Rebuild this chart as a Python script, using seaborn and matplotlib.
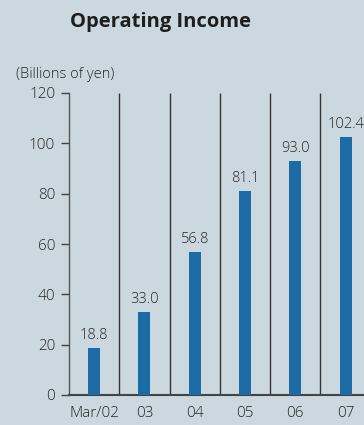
import matplotlib
matplotlib.use("Agg")
import matplotlib.pyplot as plt
import seaborn as sns
import pandas as pd

categories = ["Mar/02", "03", "04", "05", "06", "07"]
values = [18.8, 33.0, 56.8, 81.1, 93.0, 102.4]
yticks = [0, 20, 40, 60, 80, 100, 120]

BG = "#cbd8df"
BAR = "#1c6ba4"
TXT = "#262626"

sns.set_theme(style="white")
plt.rcParams["font.family"] = ["Open Sans", "DejaVu Sans"]

fig = plt.figure(figsize=(3.64, 4.25), dpi=100, facecolor=BG)
ax = fig.add_axes([69/364, 30/425, (364-69)/364, (395-93)/425])
ax.set_facecolor(BG)

df = pd.DataFrame({"cat": categories, "val": values})
sns.barplot(data=df, x="cat", y="val", color=BAR, width=0.24, saturation=1,
            linewidth=0, edgecolor=BAR, ax=ax, zorder=3)

ax.set_ylim(0, 120)
ax.set_xlim(-0.5, -0.5 + (364-69)/50.3)
ax.set_yticks(yticks)
ax.set_yticklabels([str(t) for t in yticks], fontsize=11, color=TXT,
                   fontweight="light")
ax.set_xticks(range(len(categories)))
ax.set_xticklabels(categories, fontsize=11, color=TXT, fontweight="light")
ax.set_xlabel("")
ax.set_ylabel("")
ax.tick_params(axis="y", length=6, width=1, color="#444444", pad=4, left=True)
ax.tick_params(axis="x", length=0, pad=8)

for s in ["top", "right"]:
    ax.spines[s].set_visible(False)
ax.spines["left"].set_color("#555555")
ax.spines["left"].set_linewidth(1.0)
ax.spines["bottom"].set_color("#444444")
ax.spines["bottom"].set_linewidth(1.5)

# category separators
ax.vlines([i + 0.5 for i in range(len(categories) - 1)], 0, 120,
          colors="#333333", linewidth=1.0, zorder=2)

for i, v in enumerate(values):
    ax.text(i, v + 2.0, f"{v:.1f}", ha="center", va="bottom",
            fontsize=10.5, color=TXT, fontweight="light")

fig.text(160/364, 1 - 22/425, "Operating Income", ha="center", va="center",
         fontsize=14.5, fontweight="bold", color="#1e1e1e")
fig.text(16/364, 1 - 74/425, "(Billions of yen)", ha="left", va="center",
         fontsize=10.5, color=TXT, fontweight="light")

fig.savefig("out.png", dpi=100, facecolor=BG)
